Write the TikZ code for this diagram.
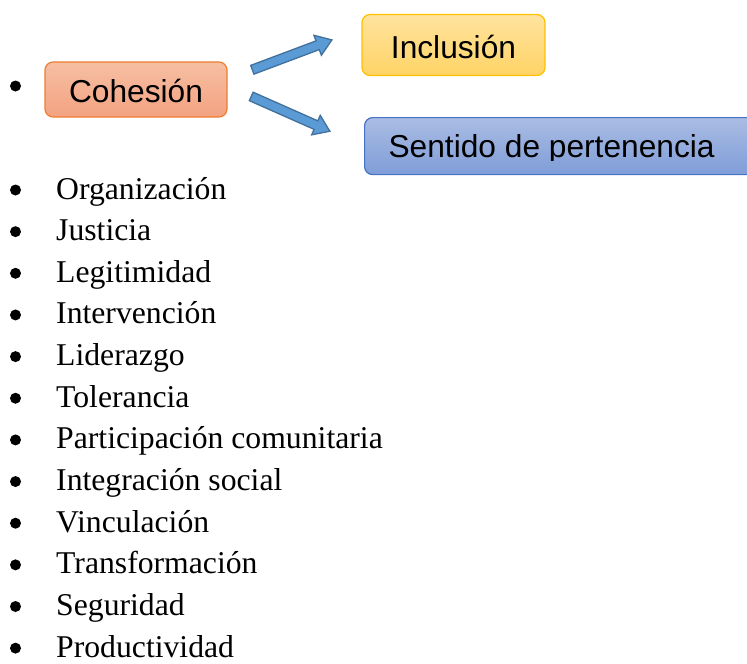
\documentclass[tikz,border=0pt]{standalone}
\usepackage{fontspec}
\setmainfont{Liberation Serif}
\setsansfont{Liberation Sans}
\usetikzlibrary{shapes.arrows, positioning}

\definecolor{cohtop}{HTML}{F6BFA2}
\definecolor{cohbot}{HTML}{F3A281}
\definecolor{cohline}{HTML}{ED7D31}
\definecolor{incltop}{HTML}{FFE39E}
\definecolor{inclbot}{HTML}{FFD466}
\definecolor{inclline}{HTML}{FFC000}
\definecolor{perttop}{HTML}{AABCE3}
\definecolor{pertbot}{HTML}{7F9DD8}
\definecolor{pertline}{HTML}{4472C4}
\definecolor{arrfill}{HTML}{5B9BD5}
\definecolor{arrline}{HTML}{41719C}

\tikzset{
  topic/.style={rounded corners=8pt, line width=1.2pt, inner sep=0pt, font=\sffamily\fontsize{31.7}{36}\selectfont},
  fatarrow/.style={single arrow, draw=arrline, fill=arrfill, line width=1.3pt, text height=8pt, text depth=0pt,
    single arrow head extend=6pt, single arrow tip angle=70, inner sep=0pt},
  dot/.style={circle, fill=black, inner sep=0pt, minimum size=11pt},
  itemtext/.style={anchor=base west, inner sep=0pt, font=\fontsize{31.7}{36}\selectfont}
}

\begin{document}
\begin{tikzpicture}[x=1pt, y=-1pt]
    \useasboundingbox (0,0) rectangle (747,664);

    \node[dot] (dot0) at (15.5,86) {};
    \node[topic, draw=cohline, top color=cohtop, bottom color=cohbot, minimum width=182pt, minimum height=55pt,
      text height=26pt, text depth=0pt] (cohesion) at (136,89.5) {Cohesión};

    \node[topic, draw=inclline, top color=incltop, bottom color=inclbot, minimum width=183pt, minimum height=61pt,
      text height=26pt, text depth=0pt] (inclusion) at (453.5,45) {Inclusión};

    \node[topic, draw=pertline, top color=perttop, bottom color=pertbot, minimum width=400pt, minimum height=57pt,
      anchor=north west] (pertenencia) at (364,117) {};
    \begin{scope}
        \clip (pertenencia.north west) rectangle (747,160.5);
        \node[topic, anchor=base west] (pertText) at (388,157) {Sentido de pertenencia};
    \end{scope}

    \coordinate (inclTail) at (249,71);
    \coordinate (inclTip) at (329,41);
    \coordinate (pertTail) at (248,95);
    \coordinate (pertTip) at (327,130);
    \path (inclTail) -- (inclTip) node[fatarrow, midway, sloped, minimum height=85pt] (arrIncl) {};
    \path (pertTail) -- (pertTip) node[fatarrow, midway, sloped, minimum height=86pt] (arrPert) {};

    \foreach \word [count=\i] in {Organización, Justicia, Legitimidad, Intervención, Liderazgo, Tolerancia,
      Participación comunitaria, Integración social, Vinculación, Transformación, Seguridad, Productividad} {
        \node[dot] (dot\i) at (15.5,{190+41.65*(\i-1)}) {};
        \node[itemtext] (item\i) at (56,{199+41.65*(\i-1)}) {\word};
    }
\end{tikzpicture}
\end{document}
